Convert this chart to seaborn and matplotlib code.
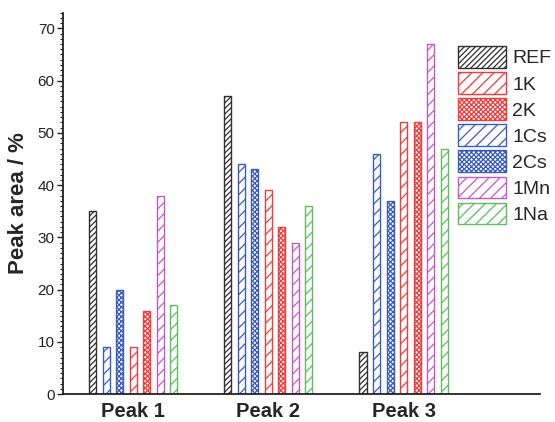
import pandas as pd
import matplotlib
matplotlib.use("Agg")
import matplotlib.pyplot as plt
from matplotlib.patches import Patch
from matplotlib.ticker import MultipleLocator
import seaborn as sns

# data
peaks = ["Peak 1", "Peak 2", "Peak 3"]
samples = ["REF", "1Cs", "2Cs", "1K", "2K", "1Mn", "1Na"]
legend_order = ["REF", "1K", "2K", "1Cs", "2Cs", "1Mn", "1Na"]
ref = [35, 57, 8]
cs1 = [9, 44, 46]
cs2 = [20, 43, 37]
k1 = [9, 39, 52]
k2 = [16, 32, 52]
mn1 = [38, 29, 67]
na1 = [17, 36, 47]

values = {"REF": ref, "1Cs": cs1, "2Cs": cs2, "1K": k1, "2K": k2, "1Mn": mn1, "1Na": na1}
colors = {"REF": "#303030", "1K": "#f03c3c", "2K": "#f03c3c", "1Cs": "#3a5cc0",
          "2Cs": "#3a5cc0", "1Mn": "#c45ac4", "1Na": "#5cbf5c"}
hatches = {"REF": "//////", "1K": "///", "2K": "xxxxxxx", "1Cs": "///",
           "2Cs": "xxxxxxx", "1Mn": "///", "1Na": "///"}

rows = []
for s in samples:
    for p, v in zip(peaks, values[s]):
        rows.append({"Peak": p, "Sample": s, "Area": v})
df = pd.DataFrame(rows)

sns.set_style("ticks")
plt.rcParams['font.family'] = ['Liberation Sans', 'DejaVu Sans']
plt.rcParams['hatch.linewidth'] = 0.9

fig = plt.figure(figsize=(5.55, 4.22), dpi=100)
ax = fig.add_axes([0.1135, 0.066, 0.8595, 0.904])

sns.barplot(data=df, x="Peak", y="Area", hue="Sample", order=peaks,
            hue_order=samples, palette=colors, fill=False, width=0.7,
            gap=0.48, linewidth=1.0, ax=ax, legend=False)

for cont, s in zip(ax.containers, samples):
    for bar in cont:
        bar.set_hatch(hatches[s])
        bar.set_edgecolor(colors[s])

ax.set_xlim(-0.52, 3.01)
ax.set_ylim(0, 73)
ax.yaxis.set_major_locator(MultipleLocator(10))
ax.yaxis.set_minor_locator(MultipleLocator(1))
ax.tick_params(axis="y", which="major", length=4, width=1, labelsize=11, pad=2, colors="#222222")
ax.tick_params(axis="y", which="minor", length=2.5, width=0.8, colors="#222222")
ax.tick_params(axis="x", length=0, labelsize=14.5, pad=6)
for lbl in ax.get_xticklabels():
    lbl.set_fontweight("bold")
ax.set_xlabel("")
ax.set_ylabel("Peak area / %", fontsize=16, fontweight="bold", labelpad=6)
sns.despine(ax=ax)
for sp in ["left", "bottom"]:
    ax.spines[sp].set_linewidth(1.3)
    ax.spines[sp].set_color("#222222")

handles = [Patch(facecolor="none", edgecolor=colors[s], hatch=hatches[s], linewidth=1.0)
           for s in legend_order]
fig.legend(handles, legend_order, loc="upper left", bbox_to_anchor=(458 / 555, 1 - 46 / 422),
           frameon=False, fontsize=14, borderpad=0, borderaxespad=0,
           handlelength=2.45, handleheight=1.35, labelspacing=0.22, handletextpad=0.35)

plt.savefig("out.png", dpi=100)
plt.close()
